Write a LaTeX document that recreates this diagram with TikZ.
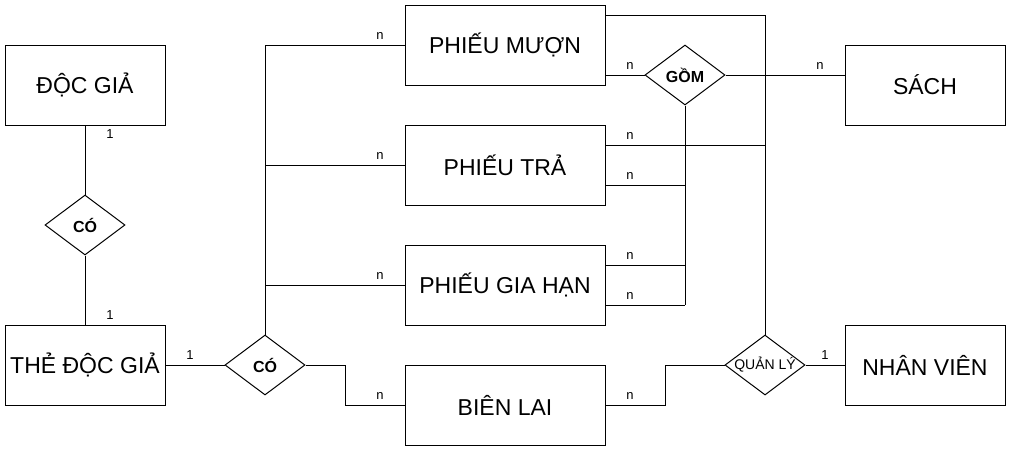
\documentclass[tikz,border=0pt]{standalone}
\usepackage{fontspec}
\setmainfont{Liberation Sans}
\usetikzlibrary{shapes.geometric,calc}
\tikzset{
  ent/.style={draw, rectangle, inner sep=0pt, minimum height=80pt, line width=1pt, font=\fontsize{23}{25}\selectfont},
  entw/.style={ent, minimum width=200pt},
  ents/.style={ent, minimum width=160pt},
  rel/.style={draw, diamond, inner sep=0pt, minimum width=80pt, minimum height=60pt, line width=1pt},
  reltxt/.style={font=\fontsize{16}{18}\selectfont\bfseries},
  card/.style={inner sep=0pt, font=\fontsize{13}{15}\selectfont},
  conn/.style={line width=1pt}
}
\begin{document}
\begin{tikzpicture}[x=1pt,y=-1pt]
\useasboundingbox (0,0) rectangle (1011,451);
% entities
\node[ents] (dg) at (85,85) {ĐỘC GIẢ};
\node[ents] (tdg) at (85,365) {THẺ ĐỘC GIẢ};
\node[entw] (pm) at (505,45) {PHIẾU MƯỢN};
\node[entw] (pt) at (505,165) {PHIẾU TRẢ};
\node[entw] (pgh) at (505,285) {PHIẾU GIA HẠN};
\node[entw] (bl) at (505,405) {BIÊN LAI};
\node[ents] (sach) at (925,85) {SÁCH};
\node[ents] (nv) at (925,365) {NHÂN VIÊN};
% relationships
\node[rel, label={[reltxt]center:CÓ}] (co1) at (85,225) {};
\node[rel, label={[reltxt]center:CÓ}] (co2) at (265,365) {};
\node[rel, label={[reltxt]center:GỒM}] (gom) at (685,75) {};
\node[rel, label={[font=\fontsize{14}{16}\selectfont]center:QUẢN LÝ}] (ql) at (765,365) {};
% connector end points
\coordinate (pmtop) at ($(pm.east)+(0,-30)$);
\coordinate (pta) at ($(pt.east)+(0,-20)$);
\coordinate (ptb) at ($(pt.east)+(0,20)$);
\coordinate (pga) at ($(pgh.east)+(0,-20)$);
\coordinate (pgb) at ($(pgh.east)+(0,20)$);
% connectors
\draw[conn] (dg.south) -- (co1.north);
\draw[conn] (co1.south) -- (tdg.north);
\draw[conn] (tdg.east) -- (co2.west);
\draw[conn] (co2.north) |- (pm.west);
\draw[conn] (co2.north |- pt.west) -- (pt.west);
\draw[conn] (co2.north |- pgh.west) -- (pgh.west);
\draw[conn] (co2.east) -- ++(40,0) |- (bl.west);
\draw[conn] (gom.west -| pm.east) -- (gom.west);
\draw[conn] (gom.east) -- (gom.east -| sach.west);
\draw[conn] (gom.south) -- (gom.south |- pgb);
\draw[conn] (ptb) -- (ptb -| gom.south);
\draw[conn] (pga) -- (pga -| gom.south);
\draw[conn] (pgb) -- (pgb -| gom.south);
\draw[conn] (ql.north) |- (pmtop);
\draw[conn] (pta) -- (pta -| ql.north);
\draw[conn] (bl.east) -- ++(60,0) |- (ql.west);
\draw[conn] (ql.east) -- (nv.west);
% cardinalities
\node[card] (c1) at (110,134) {1};
\node[card] (c2) at (110,315) {1};
\node[card] (c3) at (190,355) {1};
\node[card] (c4) at (380,36) {n};
\node[card] (c5) at (380,156) {n};
\node[card] (c6) at (380,276) {n};
\node[card] (c7) at (380,396) {n};
\node[card] (c8) at (630,66) {n};
\node[card] (c9) at (820,66) {n};
\node[card] (c10) at (630,136) {n};
\node[card] (c11) at (630,176) {n};
\node[card] (c12) at (630,256) {n};
\node[card] (c13) at (630,296) {n};
\node[card] (c14) at (630,396) {n};
\node[card] (c15) at (825,355) {1};
\end{tikzpicture}
\end{document}
